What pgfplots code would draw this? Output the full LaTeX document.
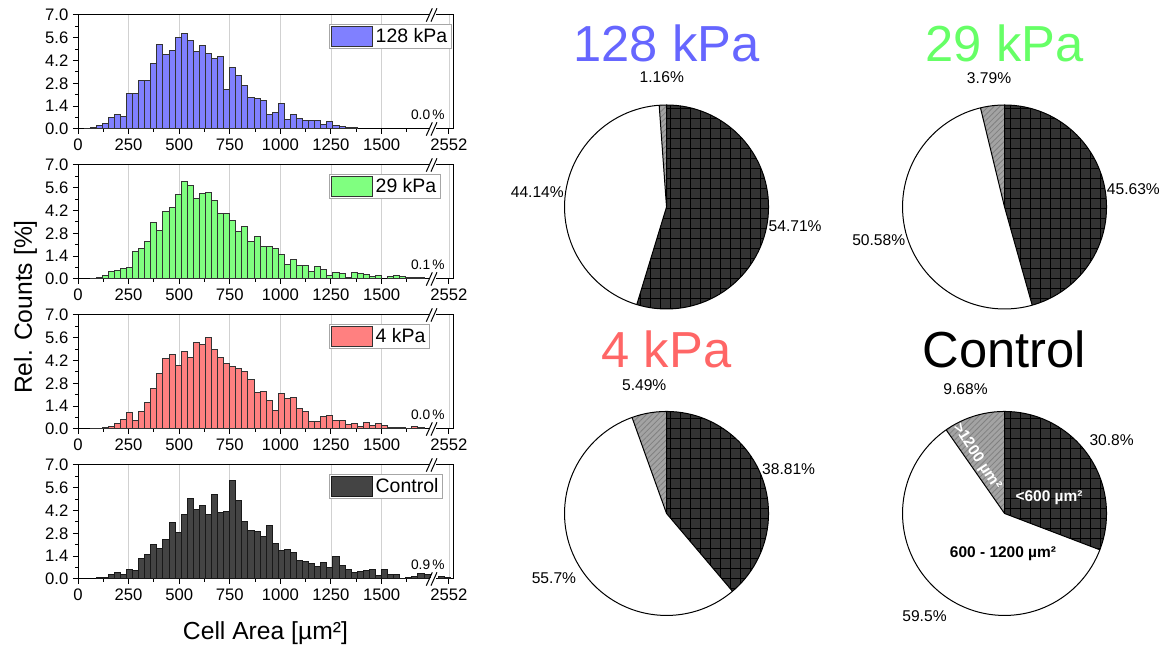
\documentclass[border=0pt]{standalone}
\usepackage{fontspec}
\setmainfont{Liberation Sans}
\usepackage{pgfplots}
\pgfplotsset{compat=1.18}
\usepackage{pgfplotstable}
\usetikzlibrary{patterns.meta}

\definecolor{kblue}{RGB}{128,128,255}
\definecolor{kgreen}{RGB}{128,255,128}
\definecolor{kred}{RGB}{255,128,128}
\definecolor{kctrl}{RGB}{68,68,68}
\definecolor{tblue}{RGB}{102,102,255}
\definecolor{tgreen}{RGB}{102,255,102}
\definecolor{tred}{RGB}{255,102,102}
\definecolor{piedark}{RGB}{51,51,51}
\definecolor{piegrey}{RGB}{163,163,163}
\definecolor{piehatch}{RGB}{128,128,128}

% bin centre (30 um^2 bins), rel. counts in %
% x right of the axis break is on the compressed scale (1833 = 2552 um^2)
\pgfplotstableread{
x y
45 0.05
75 0.1
105 0.2
135 0.35
165 0.7
195 0.9
225 0.75
255 2.2
285 2.15
315 2.95
345 3.0
375 4.0
405 5.2
435 4.6
465 4.8
495 5.6
525 5.85
555 5.45
585 4.75
615 5.15
645 4.65
675 4.3
705 4.45
735 2.4
765 3.8
795 3.3
825 2.65
855 1.95
885 1.85
915 1.75
945 0.9
975 1.0
1005 1.55
1035 0.6
1065 0.9
1095 0.65
1125 0.55
1155 0.5
1185 0.5
1215 0.3
1245 0.45
1275 0.2
1305 0.15
1335 0.1
1365 0.1
}\histA

\pgfplotstableread{
x y
75 0.05
105 0.08
135 0.2
165 0.45
195 0.55
225 0.62
255 0.68
285 1.7
315 1.85
345 2.3
375 3.45
405 2.95
435 4.15
465 4.4
495 5.2
525 6.0
555 5.75
585 4.95
615 5.25
645 5.3
675 4.85
705 4.05
735 4.05
765 3.6
795 2.9
825 3.25
855 2.3
885 2.6
915 2.0
945 2.0
975 1.85
1005 1.5
1035 0.9
1065 1.2
1095 0.8
1125 0.85
1155 0.45
1185 0.75
1215 0.6
1245 0.2
1275 0.4
1305 0.35
1335 0.1
1365 0.4
1395 0.35
1425 0.25
1455 0.15
1485 0.2
1545 0.15
1575 0.2
1605 0.15
1635 0.1
1665 0.1
1695 0.1
}\histB

\pgfplotstableread{
x y
75 0.02
105 0.05
135 0.1
165 0.15
195 0.35
225 0.6
255 1.0
285 0.55
315 1.05
345 1.6
375 2.5
405 3.4
435 4.3
465 4.6
495 3.9
525 4.75
555 4.4
585 5.3
615 5.2
645 5.6
675 4.9
705 4.4
735 4.05
765 3.85
795 3.7
825 3.5
855 3.05
885 2.25
915 2.3
945 1.75
975 1.15
1005 2.2
1035 1.9
1065 1.95
1095 1.25
1125 1.05
1155 0.45
1185 0.45
1215 0.75
1245 0.85
1275 0.5
1305 0.55
1335 0.25
1365 0.35
1395 0.15
1425 0.4
1455 0.2
1485 0.35
1515 0.2
1545 0.1
1575 0.1
1605 0.1
1635 0.05
1665 0.15
1695 0.1
}\histC

\pgfplotstableread{
x y
105 0.1
135 0.12
165 0.3
195 0.4
225 0.3
255 0.6
285 0.5
315 1.25
345 1.5
375 2.1
405 1.9
435 2.4
465 3.45
495 2.85
525 3.95
555 4.95
585 4.25
615 4.5
645 3.95
675 5.2
705 4.1
735 4.15
765 6.05
795 4.85
825 3.55
855 3.0
885 2.9
915 2.6
945 3.3
975 2.15
1005 1.75
1035 1.8
1065 1.65
1095 1.15
1125 1.1
1155 0.95
1185 0.75
1215 1.0
1245 0.7
1275 1.4
1305 0.8
1335 0.6
1365 0.4
1395 0.45
1425 0.5
1455 0.6
1485 0.2
1515 0.6
1545 0.25
1575 0.25
1605 0.05
1635 0.1
1665 0.15
1695 0.35
1725 0.3
1795 0.15
1825 0.12
}\histD

\pgfplotsset{
  hist/.style={
    scale only axis, width=281.25pt, height=85.5pt,
    xmin=0, xmax=1853, ymin=0, ymax=7,
    xtick={0,250,500,750,1000,1250,1500,1833},
    xticklabels={0,250,500,750,1000,1250,1500,2552},
    minor xtick={125,375,625,875,1125,1375,1625},
    ytick={0,1.4,2.8,4.2,5.6,7},
    minor ytick={0.7,2.1,3.5,4.9,6.3},
    y tick label style={/pgf/number format/.cd,fixed,fixed zerofill,precision=1,/tikz/.cd},
    /pgf/number format/assume math mode=true,
    tick label style={font=\fontsize{12.5}{13}\selectfont},
    tick pos=left, tick align=outside,
    major tick length=3.75pt, minor tick length=2.25pt,
    every tick/.append style={black, line width=0.75pt},
    axis line style={line width=0.75pt},
    xmajorgrids, major grid style={black!18, line width=0.6pt},
    ybar, bar width=30, bar shift=0pt,
    legend style={at={(0.669,0.921)}, anchor=north west, draw=gray!70,
      line width=0.6pt, fill=white, inner xsep=1pt, inner ysep=1pt,
      font=\fontsize{14.6}{15}\selectfont},
    legend image code/.code={\draw[#1, line width=0.8pt] (0pt,-7.5pt) rectangle (31pt,7.5pt);},
  },
  bars/.style={draw=black!80, line width=0.75pt},
  pie/.style={
    scale only axis, width=221.85pt, height=221.85pt,
    xmin=-1.45, xmax=1.45, ymin=-1.45, ymax=1.45,
    hide axis, clip=false, anchor=center,
  },
}
\tikzset{
  note/.style={anchor=base east, font=\fontsize{10.3}{11}\selectfont, inner sep=0pt},
  pl/.style={font=\fontsize{11.7}{12}\selectfont, inner sep=0pt},
  ptitle/.style={anchor=base, font=\fontsize{38}{40}\selectfont, inner sep=0pt},
  inl/.style={font=\fontsize{11.6}{12}\selectfont\bfseries, inner sep=0pt},
}

\newcommand\axbreak[1]{%
  \fill[white] ([xshift=-2.6pt,yshift=-1pt]#1) rectangle ([xshift=2.6pt,yshift=1pt]#1);
  \draw[line width=0.75pt] ([xshift=-5pt,yshift=-5pt]#1) -- ([xshift=-0.5pt,yshift=5pt]#1)
    ([xshift=-1.5pt,yshift=-5pt]#1) -- ([xshift=3pt,yshift=5pt]#1);}

% slices: <600 (dark), 600-1200 (white), >1200 (grey), clockwise from 12 o'clock
\newcommand\setpie[3]{%
  \pgfmathsetmacro\aB{90-3.6*#1}%
  \pgfmathsetmacro\aC{\aB-3.6*#2}%
  \pgfmathsetmacro\mA{(90+\aB)/2}%
  \pgfmathsetmacro\mB{(\aB+\aC)/2}%
  \pgfmathsetmacro\mC{(\aC-270)/2}%
  \def\pA{#1}\def\pB{#2}\def\pC{#3}}
\newcommand\drawpie{%
  \fill[white] (0,0) -- (\aB:1) arc[start angle=\aB, end angle=\aC, radius=1] -- cycle;
  \fill[piegrey, postaction={pattern={Lines[angle=45,distance=3pt,line width=0.6pt]}, pattern color=piehatch}]
    (0,0) -- (\aC:1) arc[start angle=\aC, end angle=-270, radius=1] -- cycle;
  \fill[piedark, postaction={pattern={Hatch[angle=0,distance=7.5pt,line width=0.6pt]}, pattern color=black}]
    (0,0) -- (90:1) arc[start angle=90, end angle=\aB, radius=1] -- cycle;
  \draw[line width=0.75pt] (0,0) circle[radius=1];
  \draw[line width=0.75pt] (90:1) -- (0,0) -- (\aB:1) (0,0) -- (\aC:1);
  \node[pl] at (\mA:1.275) {\pA\%};
  \node[pl] at (\mB:1.275) {\pB\%};
  \node[pl] at (\mC:1.275) {\pC\%};}

\begin{document}
\begin{tikzpicture}
\path (0pt,0pt) rectangle (876pt,486pt);

\begin{axis}[hist, at={(58.5pt,389.25pt)}, anchor=south west]
\addplot[bars, fill=kblue] table {\histA};
\addlegendentry{128 kPa}
\node[note] at (axis cs:1813,0.61) {0.0\,\%};
\coordinate (bb) at (axis cs:1754,0);
\coordinate (bt) at (axis cs:1754,7);
\end{axis}
\axbreak{bb}\axbreak{bt}

\begin{axis}[hist, at={(58.5pt,276.75pt)}, anchor=south west]
\addplot[bars, fill=kgreen] table {\histB};
\addlegendentry{29 kPa}
\node[note] at (axis cs:1813,0.61) {0.1\,\%};
\coordinate (bb) at (axis cs:1754,0);
\coordinate (bt) at (axis cs:1754,7);
\end{axis}
\axbreak{bb}\axbreak{bt}

\begin{axis}[hist, at={(58.5pt,164.25pt)}, anchor=south west]
\addplot[bars, fill=kred] table {\histC};
\addlegendentry{4 kPa}
\node[note] at (axis cs:1813,0.61) {0.0\,\%};
\coordinate (bb) at (axis cs:1754,0);
\coordinate (bt) at (axis cs:1754,7);
\end{axis}
\axbreak{bb}\axbreak{bt}

\begin{axis}[hist, at={(58.5pt,51.75pt)}, anchor=south west]
\addplot[bars, fill=kctrl, draw=black!90] table {\histD};
\addlegendentry{Control}
\node[note] at (axis cs:1813,0.61) {0.9\,\%};
\coordinate (bb) at (axis cs:1754,0);
\coordinate (bt) at (axis cs:1754,7);
\end{axis}
\axbreak{bb}\axbreak{bt}

\node[rotate=90, anchor=base, font=\fontsize{18.5}{20}\selectfont, inner sep=0pt] at (24pt,255.75pt) {Rel. Counts [\%]};
\node[anchor=base, font=\fontsize{18.5}{20}\selectfont, inner sep=0pt] at (199.1pt,6pt) {Cell Area [µm²]};

\setpie{54.71}{44.14}{1.16}
\begin{axis}[pie, at={(499.9pt,330.75pt)}]
\drawpie
\node[ptitle, text=tblue] at (0,1.43) {128 kPa};
\end{axis}

\setpie{45.63}{50.58}{3.79}
\begin{axis}[pie, at={(753.4pt,330.75pt)}]
\drawpie
\node[ptitle, text=tgreen] at (0,1.43) {29 kPa};
\end{axis}

\setpie{38.81}{55.7}{5.49}
\begin{axis}[pie, at={(499.9pt,100.9pt)}]
\drawpie
\node[ptitle, text=tred] at (0,1.43) {4 kPa};
\end{axis}

\setpie{30.8}{59.5}{9.68}
\begin{axis}[pie, at={(753.4pt,100.9pt)}]
\drawpie
\node[ptitle] at (0,1.43) {Control};
\node[inl, text=white] at (0.436,0.152) {<600 µm²};
\node[inl] at (-0.015,-0.397) {600 - 1200 µm²};
\node[inl, text=white, rotate=-57] at (-0.273,0.557) {>1200 µm²};
\end{axis}
\end{tikzpicture}
\end{document}
